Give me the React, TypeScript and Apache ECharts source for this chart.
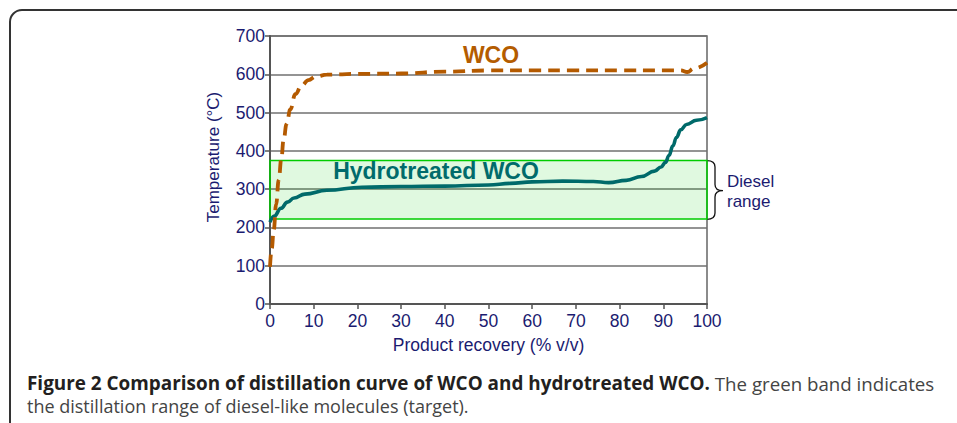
import React, { useEffect, useRef } from "react";
import * as echarts from "echarts";

// ---- data ----
const wcoRecovery = [0, 0.4, 0.85, 1.4, 2, 2.6, 3.1, 3.8, 4.65, 5.8, 7.2, 8.8, 10.5, 13, 20, 30, 40, 50, 60, 70, 80, 90, 94, 95.5, 97, 100];
const wcoTemp = [97, 145, 193, 260, 324, 380, 428, 470, 508, 548, 570, 585, 594, 599, 601, 602, 607, 610, 610, 610, 610, 610, 610, 606, 615, 630];

const hydroRecovery = [0, 1, 2.5, 4, 5.5, 8, 13, 21, 30, 40, 50, 55, 60, 67, 74, 77.5, 81.5, 85, 88, 89.5, 90.5, 91.3, 92.2, 93, 94, 95.3, 97.6, 100];
const hydroTemp = [214, 230, 250, 266, 277, 287, 297, 305, 307, 308, 311, 315, 319, 321, 320, 317, 323, 333, 347, 358, 370, 388, 413, 435, 455, 469, 480, 487];

const dieselRange = [222, 375];

const yTicks = { min: 0, max: 700, interval: 100 };
const xTicks = { min: 0, max: 100, interval: 10 };

const NAVY = "#1b1b70";
const FONT = "'Liberation Sans', Arial, sans-serif";
const CAP = "'Open Sans', sans-serif";

export default function App() {
  const ref = useRef<HTMLDivElement>(null);

  useEffect(() => {
    if (!ref.current) return;
    const chart = echarts.init(ref.current, undefined, { renderer: "svg" });

    const bracePath =
      "M 707 160.7 Q 715 160.7 715 167 L 715 184.5 Q 715 190.7 723 190.7 Q 715 190.7 715 197 L 715 213 Q 715 219.3 707 219.3";
    echarts.graphic.registerShape("brace", echarts.graphic.extendPath(bracePath, {}) as any);

    const wcoData = wcoRecovery.map((x, i) => [x, wcoTemp[i]]);
    const hydroData = hydroRecovery.map((x, i) => [x, hydroTemp[i]]);

    chart.setOption({
      animation: false,
      backgroundColor: "#ffffff",
      textStyle: { fontFamily: FONT },
      grid: { left: 270, right: 250, top: 36, bottom: 119, show: true, borderColor: "#666", borderWidth: 1.5, backgroundColor: "transparent" },
      xAxis: {
        type: "value",
        min: xTicks.min,
        max: xTicks.max,
        interval: xTicks.interval,
        name: "Product recovery (% v/v)",
        nameLocation: "middle",
        nameGap: 32,
        nameTextStyle: { color: NAVY, fontSize: 17.5, fontFamily: FONT },
        axisLine: { lineStyle: { color: "#555", width: 2 } },
        axisTick: { show: true, length: 5, lineStyle: { color: "#555", width: 1.5 } },
        axisLabel: { color: NAVY, fontSize: 17.5, fontFamily: FONT, margin: 8 },
        splitLine: { show: false },
      },
      yAxis: {
        type: "value",
        min: yTicks.min,
        max: yTicks.max,
        interval: yTicks.interval,
        axisLine: { show: true, lineStyle: { color: "#555", width: 2 } },
        axisTick: { show: true, length: 5, lineStyle: { color: "#555", width: 1.5 } },
        axisLabel: { color: NAVY, fontSize: 17.5, fontFamily: FONT, margin: 5 },
        splitLine: { show: true, lineStyle: { color: "#707070", width: 1.6 } },
      },
      series: [
        {
          name: "Hydrotreated WCO",
          type: "line",
          data: hydroData,
          smooth: 0.45,
          smoothMonotone: "x",
          showSymbol: false,
          symbol: "none",
          lineStyle: { color: "#006a6a", width: 3.6 },
          z: 3,
          markArea: {
            silent: true,
            itemStyle: { color: "rgba(0,204,0,0.12)", borderColor: "#00cc00", borderWidth: 1.5 },
            data: [[{ yAxis: dieselRange[0] }, { yAxis: dieselRange[1] }]],
          },
        },
        {
          name: "WCO",
          type: "line",
          data: wcoData,
          smooth: 0.45,
          smoothMonotone: "x",
          showSymbol: false,
          symbol: "none",
          lineStyle: { color: "#b45a00", width: 3.8, type: [12, 7] },
          z: 4,
        },
      ],
      graphic: [
        {
          type: "rect",
          shape: { x: 10, y: 10, width: 1000, height: 500, r: 12 },
          style: { fill: "none", stroke: "#333", lineWidth: 2 },
          silent: true,
        },
        {
          type: "text",
          x: 491,
          y: 55,
          style: { text: "WCO", fill: "#b45c00", font: `bold 23px ${FONT}`, align: "center", verticalAlign: "middle" },
          z: 10,
        },
        {
          type: "text",
          x: 436,
          y: 171,
          style: { text: "Hydrotreated WCO", fill: "#006b6b", font: `bold 23px ${FONT}`, align: "center", verticalAlign: "middle" },
          z: 10,
        },
        {
          type: "text",
          x: 213,
          y: 157,
          rotation: Math.PI / 2,
          style: { text: "Temperature (°C)", fill: NAVY, font: `17px ${FONT}`, align: "center", verticalAlign: "middle" },
        },
        {
          type: "text",
          x: 727,
          y: 191,
          style: { text: "Diesel\nrange", fill: NAVY, font: `17px ${FONT}`, lineHeight: 20, align: "left", verticalAlign: "middle" },
        },
        {
          type: "brace",
          x: 0,
          y: 0,
          style: { fill: "none", stroke: "#111", lineWidth: 1.3 },
        },
        {
          type: "text",
          x: 27,
          y: 383,
          style: {
            text: "{b|Figure 2 Comparison of distillation curve of WCO and hydrotreated WCO.}{r| The green band indicates}",
            verticalAlign: "middle",
            align: "left",
            rich: {
              b: { fontFamily: CAP, fontWeight: "bold", fontSize: 18.9, fill: "#231f20" },
              r: { fontFamily: CAP, fontSize: 18.7, fill: "#444" },
            },
          },
        },
        {
          type: "text",
          x: 27,
          y: 406,
          style: {
            text: "the distillation range of diesel-like molecules (target).",
            fill: "#444",
            font: `18px ${CAP}`,
            align: "left",
            verticalAlign: "middle",
          },
        },
      ],
    });

    return () => chart.dispose();
  }, []);

  return <div ref={ref} style={{ position: "absolute", left: 0, top: 0, width: 957, height: 423 }} />;
}
